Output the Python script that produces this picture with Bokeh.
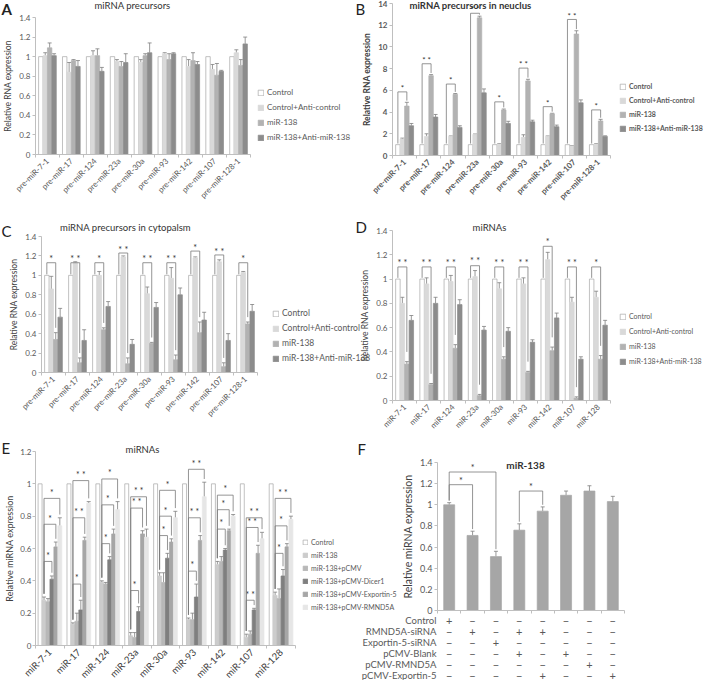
import math
from bokeh.plotting import figure
from bokeh.models import (Range1d, FixedTicker, ColumnDataSource, Whisker, TeeHead,
                          Legend, LegendItem, Label, LabelSet, LinearAxis)
from bokeh.embed import file_html
from bokeh.resources import INLINE
from bokeh.core.properties import value

FONT = "Lato"
TXT = "#595959"
DARK = "#404040"
AX = "#bfbfbf"
ERRC = "#7f7f7f"

# ---------------- data ----------------
pre_cats = ["pre-miR-7-1", "pre-miR-17", "pre-miR-124", "pre-miR-23a", "pre-miR-30a",
            "pre-miR-93", "pre-miR-142", "pre-miR-107", "pre-miR-128-1"]
mir_cats = ["miR-7-1", "miR-17", "miR-124", "miR-23a", "miR-30a", "miR-93",
            "miR-142", "miR-107", "miR-128"]
series4 = ["Control", "Control+Anti-control", "miR-138", "miR-138+Anti-miR-138"]
colors4 = ["#ffffff", "#d9d9d9", "#b2b2b2", "#8c8c8c"]
ticks_14 = [0, 0.2, 0.4, 0.6, 0.8, 1, 1.2, 1.4]
ticks_12 = [0, 0.2, 0.4, 0.6, 0.8, 1, 1.2]
ticks_B = [0, 2, 4, 6, 8, 10, 12, 14]

# Panel A: miRNA precursors
A_ctrl = [1.00, 1.00, 1.00, 1.00, 1.00, 1.00, 1.00, 1.00, 1.00]
A_anti_ctrl = [1.01, 0.84, 1.01, 0.95, 0.94, 1.03, 0.90, 0.87, 1.04]
A_m138 = [1.09, 0.96, 1.01, 0.90, 1.01, 0.97, 0.96, 0.81, 0.91]
A_m138_anti = [1.01, 0.90, 0.85, 0.94, 1.04, 1.03, 0.92, 0.85, 1.13]
A_ctrl_err = [0, 0, 0, 0, 0, 0, 0, 0, 0]
A_anti_ctrl_err = [0.03, 0.10, 0.05, 0.02, 0.03, 0.01, 0.07, 0.05, 0.03]
A_m138_err = [0.05, 0.01, 0.07, 0.05, 0.02, 0.06, 0.08, 0.12, 0.06]
A_m138_anti_err = [0.02, 0.06, 0.04, 0.09, 0.10, 0.01, 0.03, 0.01, 0.07]

# Panel B: miRNA precursors in nucleus
B_ctrl = [1.00, 1.00, 1.00, 1.00, 1.00, 1.00, 1.00, 1.00, 1.00]
B_anti_ctrl = [1.52, 1.76, 1.76, 1.93, 1.04, 1.67, 1.76, 0.86, 1.04]
B_m138 = [4.55, 7.35, 5.63, 12.68, 4.20, 6.87, 3.84, 11.19, 3.18]
B_m138_anti = [2.74, 3.54, 2.59, 5.77, 2.95, 3.10, 2.65, 4.85, 1.76]
B_ctrl_err = [0, 0, 0, 0, 0, 0, 0, 0, 0]
B_anti_ctrl_err = [0.08, 0.24, 0.04, 0.05, 0.05, 0.24, 0.04, 0.04, 0.05]
B_m138_err = [0.35, 0.10, 0.08, 0.15, 0.08, 0.15, 0.05, 0.30, 0.15]
B_m138_anti_err = [0.21, 0.24, 0.15, 0.36, 0.20, 0.15, 0.15, 0.27, 0.05]
B_brk = [5.86, 8.45, 6.58, 13.1, 4.94, 8.05, 4.5, 12.53, 4.2]
B_stars = ["*", "* *", "*", "* *", "*", "* *", "*", "* *", "*"]

# Panel C: miRNA precursors in cytoplasm
C_ctrl = [1.00, 1.00, 1.00, 1.00, 1.00, 1.00, 1.00, 1.00, 1.00]
C_anti_ctrl = [0.86, 1.13, 1.00, 1.19, 0.81, 0.97, 1.18, 1.14, 1.03]
C_m138 = [0.34, 0.10, 0.44, 0.09, 0.30, 0.13, 0.41, 0.06, 0.50]
C_m138_anti = [0.57, 0.33, 0.68, 0.29, 0.67, 0.80, 0.54, 0.33, 0.63]
C_ctrl_err = [0, 0, 0, 0, 0, 0, 0, 0, 0]
C_anti_ctrl_err = [0.13, 0.01, 0.04, 0.01, 0.07, 0.11, 0.01, 0.02, 0.01]
C_m138_err = [0.07, 0.05, 0.02, 0.06, 0.01, 0.05, 0.11, 0.04, 0.02]
C_m138_anti_err = [0.09, 0.11, 0.05, 0.05, 0.05, 0.07, 0.08, 0.07, 0.07]
C_brk = [1.13, 1.13, 1.13, 1.23, 1.13, 1.13, 1.25, 1.21, 1.13]
C_stars = ["*", "* *", "*", "* *", "* *", "* *", "*", "* *", "*"]

# Panel D: miRNAs
D_ctrl = [1.00, 1.00, 1.00, 1.00, 1.00, 1.00, 1.00, 1.00, 1.00]
D_anti_ctrl = [0.80, 0.96, 0.98, 1.02, 0.92, 0.96, 1.16, 0.81, 0.85]
D_m138 = [0.30, 0.13, 0.43, 0.04, 0.34, 0.23, 0.41, 0.02, 0.34]
D_m138_anti = [0.66, 0.80, 0.79, 0.58, 0.57, 0.48, 0.68, 0.34, 0.62]
D_ctrl_err = [0, 0, 0, 0, 0, 0, 0, 0, 0]
D_anti_ctrl_err = [0.05, 0.05, 0.05, 0.05, 0.05, 0.05, 0.06, 0.04, 0.05]
D_m138_err = [0.02, 0.01, 0.03, 0.01, 0.02, 0.01, 0.03, 0.01, 0.03]
D_m138_anti_err = [0.04, 0.05, 0.04, 0.03, 0.03, 0.02, 0.04, 0.02, 0.04]
D_brk = [1.1, 1.1, 1.1, 1.11, 1.1, 1.1, 1.27, 1.1, 1.1]
D_stars = ["* *", "* *", "* *", "* *", "* *", "* *", "*", "* *", "*"]

# Panel E: miRNAs with rescue constructs
E_names = ["Control", "miR-138", "miR-138+pCMV", "miR-138+pCMV-Dicer1",
           "miR-138+pCMV-Exportin-5", "miR-138+pCMV-RMND5A"]
E_colors = ["#ffffff", "#cccccc", "#b8b8b8", "#7f7f7f", "#a6a6a6", "#e6e6e6"]
E_ctrl = [1.00, 1.00, 1.00, 1.00, 1.00, 1.00, 1.00, 1.00, 1.00]
E_m138 = [0.28, 0.13, 0.39, 0.06, 0.43, 0.16, 0.50, 0.05, 0.31]
E_pcmv = [0.27, 0.15, 0.38, 0.05, 0.39, 0.16, 0.52, 0.07, 0.29]
E_dicer = [0.41, 0.22, 0.53, 0.21, 0.54, 0.30, 0.59, 0.22, 0.43]
E_exportin = [0.61, 0.65, 0.69, 0.69, 0.64, 0.65, 0.71, 0.57, 0.61]
E_rmnd5a = [0.74, 0.88, 0.84, 0.67, 0.79, 0.92, 0.80, 0.66, 0.78]
E_ctrl_err = [0, 0, 0, 0, 0, 0, 0, 0, 0]
E_m138_err = [0.02, 0.01, 0.01, 0.02, 0.02, 0.01, 0.02, 0.02, 0.02]
E_pcmv_err = [0.02, 0.05, 0.01, 0.03, 0.06, 0.04, 0.03, 0.02, 0.06]
E_dicer_err = [0.02, 0.06, 0.02, 0.03, 0.03, 0.08, 0.01, 0.01, 0.04]
E_exportin_err = [0.03, 0.02, 0.03, 0.02, 0.02, 0.03, 0.01, 0.05, 0.02]
E_rmnd5a_err = [0.05, 0.01, 0.05, 0.05, 0.04, 0.09, 0.01, 0.04, 0.02]
E_brk_dicer = [0.52, 0.38, 0.63, 0.34, 0.68, 0.46, 0.72, 0.28, 0.57]
E_brk_exportin = [0.75, 0.79, 0.87, 0.85, 0.80, 0.79, 0.84, 0.73, 0.74]
E_brk_rmnd5a = [0.91, 1.02, 1.03, 0.92, 0.96, 1.09, 0.93, 0.79, 0.91]
E_stars_dicer = ["*", "*", "*", "*", "*", "*", "*", "* *", "*"]
E_stars_exportin = ["*", "* *", "*", "* *", "*", "* *", "*", "* *", "*"]
E_stars_rmnd5a = ["*", "* *", "*", "* *", "*", "* *", "*", "* *", "* *"]

# Panel F: miR-138
F_vals = [1.00, 0.71, 0.51, 0.76, 0.94, 1.09, 1.13, 1.03]
F_errs = [0.02, 0.04, 0.05, 0.06, 0.04, 0.04, 0.05, 0.05]
F_brk_from = [0, 0, 3]
F_brk_to = [1, 2, 4]
F_brk_h = [1.19, 1.31, 1.13]
F_brk_stars = ["*", "*", "*"]
F_rows = ["Control", "RMND5A-siRNA", "Exportin-5-siRNA", "pCMV-Blank", "pCMV-RMND5A", "pCMV-Exportin-5"]
F_signs = [
    ["+", "−", "−", "−", "−", "−", "−", "−"],
    ["−", "+", "−", "+", "+", "−", "−", "−"],
    ["−", "−", "+", "−", "−", "−", "−", "−"],
    ["−", "−", "−", "+", "−", "+", "−", "−"],
    ["−", "−", "−", "−", "−", "−", "+", "−"],
    ["−", "−", "−", "−", "+", "−", "−", "+"],
]

# ---------------- one canvas, one pair of ranges per panel ----------------
PAGE_X, PAGE_Y, PAGE_W, PAGE_H = 8, 8, 704, 680

p = figure(width=PAGE_W, height=PAGE_H, title=None, output_backend="svg", toolbar_location=None,
           x_axis_type=None, y_axis_type=None, x_range=Range1d(0, 1), y_range=Range1d(0, 1),
           min_border=0, min_border_left=0, min_border_right=0, min_border_top=0,
           min_border_bottom=0)
p.outline_line_color = None
p.background_fill_color = "white"
p.border_fill_color = "white"


def sx(img_x):
    return img_x - PAGE_X


def sy(img_y):
    return PAGE_Y + PAGE_H - img_y


def label(img_x, img_y, text, size, bold=False, align="left", color="#222222"):
    p.add_layout(Label(x=sx(img_x), y=sy(img_y), x_units="screen", y_units="screen", text=text,
                       text_font=FONT, text_font_size=size,
                       text_font_style="bold" if bold else "normal",
                       text_align=align, text_baseline="middle", text_color=color))


class Panel:
    def __init__(self, name, plot_box, n, y_end, y_ticks, cats, xfont, yfont, ylabel, ylabel_font,
                 bold=False, xcolor=TXT, ylabel_color=DARK, standoff=2):
        xl, xr, yt, yb = plot_box
        ppx = (xr - xl) / n
        ppy = (yb - yt) / y_end
        x0 = -0.5 - (xl - PAGE_X) / ppx
        x1 = n - 0.5 + (PAGE_X + PAGE_W - xr) / ppx
        y1 = y_end + (yt - PAGE_Y) / ppy
        y0 = -(PAGE_Y + PAGE_H - yb) / ppy
        p.extra_x_ranges[name] = Range1d(x0, x1)
        p.extra_y_ranges[name] = Range1d(y0, y1)
        self.name = name
        self.rn = dict(x_range_name=name, y_range_name=name)
        style = "bold" if bold else "normal"
        xa = LinearAxis(fixed_location=0, bounds=(-0.5, n - 0.5), **self.rn)
        xa.ticker = FixedTicker(ticks=list(range(n)), minor_ticks=[i - 0.5 for i in range(n + 1)])
        xa.major_label_overrides = {i: (cats[i] if cats else "") for i in range(n)}
        xa.major_label_orientation = math.pi / 4
        xa.major_tick_out = 0
        xa.major_tick_in = 0
        xa.minor_tick_out = 3
        xa.minor_tick_in = 0
        xa.major_label_standoff = 2
        xa.major_label_text_font = FONT
        xa.major_label_text_font_size = xfont
        xa.major_label_text_color = xcolor
        xa.major_label_text_font_style = style
        ya = LinearAxis(fixed_location=-0.5, bounds=(0, y_end), **self.rn)
        ya.ticker = FixedTicker(ticks=y_ticks, minor_ticks=[])
        ya.major_label_overrides = {t: f"{t:g}" for t in y_ticks}
        ya.major_tick_out = 3
        ya.major_tick_in = 0
        ya.minor_tick_line_color = None
        ya.major_label_standoff = standoff
        ya.major_label_text_font = FONT
        ya.major_label_text_font_size = yfont
        ya.major_label_text_color = TXT
        ya.major_label_text_font_style = style
        ya.axis_label = ylabel
        ya.axis_label_text_font = FONT
        ya.axis_label_text_font_size = ylabel_font
        ya.axis_label_text_font_style = style
        ya.axis_label_text_color = ylabel_color
        ya.axis_label_standoff = standoff + 1
        for ax in (xa, ya):
            ax.axis_line_color = AX
            ax.major_tick_line_color = AX
        xa.minor_tick_line_color = AX
        p.add_layout(xa, "below")
        p.add_layout(ya, "left")

    def bars(self, vals, errs, colors, group_w, outline="#a6a6a6"):
        n = len(vals[0])
        k = len(vals)
        bw = group_w / k
        rends, xpos, ups = [], [], []
        for s in range(k):
            xs = [i + (s - (k - 1) / 2) * bw for i in range(n)]
            up = [v + e for v, e in zip(vals[s], errs[s])]
            src = ColumnDataSource(dict(x=xs, top=vals[s], up=up))
            lc = outline if colors[s] == "#ffffff" else colors[s]
            r = p.vbar(x="x", top="top", bottom=0, width=bw, source=src,
                       fill_color=colors[s], line_color=lc, line_width=0.7, **self.rn)
            if any(e > 0 for e in errs[s]):
                w = Whisker(base="x", lower="top", upper="up", source=src, dimension="height",
                            line_color=ERRC, line_width=0.8, lower_head=None,
                            upper_head=TeeHead(size=4, line_color=ERRC, line_width=0.8), **self.rn)
                p.add_layout(w)
            rends.append(r)
            xpos.append(xs)
            ups.append(up)
        return rends, xpos, ups

    def brackets(self, xa, ya, xb, yb, h, stars, star_font, star_gap):
        xs = [[a, a, b, b] for a, b in zip(xa, xb)]
        ys = [[y1, hh, hh, y2] for y1, y2, hh in zip(ya, yb, h)]
        p.multi_line(xs=xs, ys=ys, line_color="#7a7a7a", line_width=0.8, **self.rn)
        p.text(x=[(a + b) / 2 for a, b in zip(xa, xb)], y=[hh + star_gap for hh in h], text=stars,
               text_align="center", text_baseline="middle", text_font=value(FONT),
               text_font_size=star_font, text_color="#333333", **self.rn)


def legend(rends, names, img_x, img_bottom, font, spacing, glyph=7, bold=False):
    items = [LegendItem(label=nm, renderers=[r]) for nm, r in zip(names, rends)]
    lg = Legend(items=items, location=(sx(img_x), sy(img_bottom)),
                orientation="vertical", label_text_font=FONT, label_text_font_size=font,
                label_text_color=TXT, label_text_font_style="bold" if bold else "normal",
                glyph_width=glyph, glyph_height=glyph, label_height=glyph, label_standoff=3,
                spacing=spacing, padding=0, margin=0, border_line_color=None,
                background_fill_alpha=0)
    p.add_layout(lg)


def four_panel(name, plot_box, cats, vals, errs, y_end, y_ticks, bold=False):
    pn = Panel(name, plot_box, len(cats), y_end, y_ticks, cats, "8px", "8px",
               "Relative RNA expression", "8.5px", bold=bold)
    rends, xpos, ups = pn.bars(vals, errs, colors4, 0.74)
    return pn, rends, xpos, ups


# ---------------- Panel A ----------------
PA, rA, xA, uA = four_panel("A", (43, 258, 25, 162), pre_cats,
                            [A_ctrl, A_anti_ctrl, A_m138, A_m138_anti],
                            [A_ctrl_err, A_anti_ctrl_err, A_m138_err, A_m138_anti_err], 1.4, ticks_14)
legend(rA, series4, 265, 150, "8px", 5)
label(9, 16, "A", "15px", bold=True)
label(140, 13, "miRNA precursors", "9.5px", align="center", color="#333333")

# ---------------- Panel B ----------------
PB, rB, xB, uB = four_panel("B", (400, 618, 11, 163), pre_cats,
                            [B_ctrl, B_anti_ctrl, B_m138, B_m138_anti],
                            [B_ctrl_err, B_anti_ctrl_err, B_m138_err, B_m138_anti_err], 14, ticks_B,
                            bold=True)
PB.brackets(xB[0], [v + 0.1 for v in uB[0]], xB[2], [v + 0.15 for v in uB[2]], B_brk, B_stars,
            "8px", 0.35)
legend(rB, series4, 627, 140, "7px", 6, bold=True)
label(363, 16, "B", "15px")
label(478, 13, "miRNA precursors in neuclus", "9.5px", bold=True, align="center", color="#333333")

# ---------------- Panel C ----------------
PC, rC, xC, uC = four_panel("C", (49, 265, 244, 380), pre_cats,
                            [C_ctrl, C_anti_ctrl, C_m138, C_m138_anti],
                            [C_ctrl_err, C_anti_ctrl_err, C_m138_err, C_m138_anti_err], 1.4, ticks_14)
PC.brackets(xC[0], [v + 0.01 for v in uC[0]], xC[2], [v + 0.05 for v in uC[2]], C_brk, C_stars,
            "9px", 0.04)
legend(rC, series4, 280, 371, "8.5px", 5)
label(9, 238, "C", "15px")
label(133, 235, "miRNA precursors in cytopalsm", "9.5px", align="center", color="#333333")

# ---------------- Panel D ----------------
PD, rD, xD, uD = four_panel("D", (400, 618, 238, 408), mir_cats,
                            [D_ctrl, D_anti_ctrl, D_m138, D_m138_anti],
                            [D_ctrl_err, D_anti_ctrl_err, D_m138_err, D_m138_anti_err], 1.4, ticks_14)
PD.brackets(xD[0], [v + 0.01 for v in uD[0]], xD[2], [v + 0.08 for v in uD[2]], D_brk, D_stars,
            "9px", 0.04)
legend(rD, series4, 627, 373, "7px", 7)
label(363, 234, "D", "15px")
label(497, 235, "miRNAs", "9.5px", align="center", color="#333333")

# ---------------- Panel E ----------------
PE = Panel("E", (43, 303, 459, 653), 9, 1.2, ticks_12, mir_cats, "9.5px", "8px",
           "Relative miRNA expression", "9px", xcolor=DARK, standoff=1)
E_vals = [E_ctrl, E_m138, E_pcmv, E_dicer, E_exportin, E_rmnd5a]
E_errs = [E_ctrl_err, E_m138_err, E_pcmv_err, E_dicer_err, E_exportin_err, E_rmnd5a_err]
rE, xE, uE = PE.bars(E_vals, E_errs, E_colors, 0.82)
for tgt, hh, st in [(3, E_brk_dicer, E_stars_dicer), (4, E_brk_exportin, E_stars_exportin),
                    (5, E_brk_rmnd5a, E_stars_rmnd5a)]:
    PE.brackets(xE[1], [v + 0.02 for v in uE[1]], xE[tgt], [v + 0.02 for v in uE[tgt]], hh, st,
                "8.5px", 0.035)
legend(rE, E_names, 310, 619, "7px", 5, glyph=6)
label(9, 455, "E", "15px")
label(150, 457, "miRNAs", "9.5px", align="center", color="#333333")

# ---------------- Panel F ----------------
PF = Panel("F", (445, 632, 470, 618), 8, 1.4, ticks_14, None, "8px", "9px",
           "Relative miRNA expression", "10.5px")
rF, xF, uF = PF.bars([F_vals], [F_errs], ["#a6a6a6"], 0.47)
PF.brackets([xF[0][i] for i in F_brk_from], [uF[0][i] + 0.02 for i in F_brk_from],
            [xF[0][i] for i in F_brk_to], [uF[0][i] + 0.02 for i in F_brk_to],
            F_brk_h, F_brk_stars, "9px", 0.04)
label(365, 456, "F", "15px")
label(533, 472, "miR-138", "10px", bold=True, align="center", color="#333333")
row_img_y = [628, 639, 650, 661, 672, 683]
row_y = [sy(v) for v in row_img_y]
row_src = ColumnDataSource(dict(x=[sx(444)] * len(F_rows), y=row_y, text=F_rows))
p.add_layout(LabelSet(x="x", y="y", text="text", source=row_src, x_units="screen", y_units="screen",
                      text_align="right", text_baseline="middle", text_font=value(FONT),
                      text_font_size="9.5px", text_color=TXT))
s_x, s_y, s_t = [], [], []
for r_i, signs in enumerate(F_signs):
    for c_i, sg in enumerate(signs):
        s_x.append(c_i)
        s_y.append(row_y[r_i])
        s_t.append(sg)
sign_src = ColumnDataSource(dict(x=s_x, y=s_y, text=s_t))
p.add_layout(LabelSet(x="x", y="y", text="text", source=sign_src, x_units="data", y_units="screen",
                      text_align="center", text_baseline="middle", text_font=value(FONT),
                      text_font_size="11px", text_color=TXT, **PF.rn))

open("out.html", "w").write(file_html(p, INLINE))
